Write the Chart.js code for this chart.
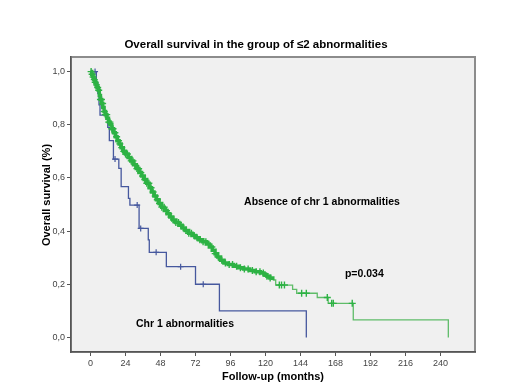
<!DOCTYPE html>
<html>
<head>
<meta charset="utf-8">
<script src="https://cdn.jsdelivr.net/npm/chart.js@4.4.0/dist/chart.umd.min.js"></script>
<style>
  html, body { margin: 0; background: #fff; }
  #wrap { width: 520px; height: 390px; }
</style>
</head>
<body>
<div id="wrap"><canvas id="km"></canvas></div>
<script>
// tick labels
const xTicks = [0, 24, 48, 72, 96, 120, 144, 168, 192, 216, 240];
const yTicks = [0, 0.2, 0.4, 0.6, 0.8, 1.0];

// Absence of chr 1 abnormalities - event times (months) and survival after each event
const greenT = [0, 0.8, 1.6, 2.3, 3.0, 3.8, 4.5, 5.3, 6.0, 6.8, 7.6, 8.4, 9.3, 10.2, 11.2, 12.3, 13.4,
  14.6, 15.8, 17.0, 18.2, 19.6, 21.0, 22.5, 24.0, 25.8, 27.6, 29.5, 31.4, 33.2, 35.0, 36.8, 38.5,
  40.2, 41.8, 43.5, 45.2, 47.0, 48.8, 50.6, 52.5, 54.4, 56.4, 58.5, 60.6, 62.8, 65.0, 67.3, 69.6,
  72.0, 74.5, 77.0, 79.4, 81.5, 83.5, 85.4, 87.2, 89.2, 91.5, 94.5, 98.0, 101.5, 105.0, 109.0,
  113.0, 116.5, 119.0, 121.0, 123.0, 125.0, 127.0, 138.6, 141.4, 155.5, 163.0, 180.2, 245.4];
const greenS = [1.0, 0.99, 0.98, 0.97, 0.96, 0.95, 0.94, 0.93, 0.91, 0.895, 0.88, 0.865, 0.85, 0.838, 0.825, 0.81, 0.80,
  0.785, 0.77, 0.755, 0.74, 0.728, 0.714, 0.70, 0.69, 0.677, 0.664, 0.65, 0.635, 0.62, 0.607, 0.594, 0.58,
  0.563, 0.547, 0.532, 0.518, 0.504, 0.49, 0.477, 0.465, 0.453, 0.442, 0.432, 0.422, 0.412, 0.402, 0.392, 0.383,
  0.375, 0.367, 0.36, 0.351, 0.34, 0.328, 0.315, 0.302, 0.29, 0.28, 0.274, 0.268, 0.262, 0.257, 0.252,
  0.247, 0.242, 0.236, 0.23, 0.223, 0.216, 0.197, 0.181, 0.166, 0.15, 0.128, 0.066, 0.0];
// censored times for the same group
const greenCens = [0.4, 1.1, 1.8, 2.6, 3.2, 4.1, 4.9, 5.6, 6.8, 7.5, 8.3, 9.4, 10.2, 11.1, 12.5, 13.3, 14.6,
  15.4, 16.7, 17.9, 19.2, 20.1, 21.4, 22.8, 24.0, 25.3, 26.5, 27.9, 29.1, 30.4, 31.8, 33.0, 34.5, 35.7,
  37.2, 38.6, 40.0, 41.5, 42.9, 44.4, 45.8, 47.3, 48.9, 50.5, 52.1, 53.6, 55.2, 56.9, 58.5, 60.3, 62.0,
  63.8, 65.5, 67.4, 69.2, 71.0, 73.1, 75.0, 77.2, 79.1, 81.0, 83.2, 85.5, 87.6, 90.0, 92.5, 95.1, 97.4,
  100.2, 102.8, 105.5, 108.1, 111.0, 113.6, 116.2, 118.5, 121.0, 123.2, 129.5, 131.0, 133.0, 144.8,
  148.0, 162.4, 165.4, 166.5, 179.5];

// Chr 1 abnormalities
const blueT = [0, 4.0, 5.0, 5.8, 6.5, 11.8, 12.9, 15.7, 19.4, 21.0, 26.0, 27.0, 33.3, 39.6, 40.3, 52.0, 72.0, 88.4, 148.0];
const blueS = [1.0, 0.958, 0.917, 0.875, 0.836, 0.79, 0.74, 0.671, 0.636, 0.567, 0.523, 0.498, 0.41, 0.367, 0.32, 0.266, 0.20, 0.10, 0.0];
const blueCens = [3.1, 16.8, 32.0, 34.4, 45.0, 61.8, 77.3];

const notes = ['Absence of chr 1 abnormalities', 'p=0.034', 'Chr 1 abnormalities'];

const FONT = '"Liberation Sans", Arial, sans-serif';
const GREEN = 'rgb(45,178,68)';
const GREEN_TAIL = 'rgb(95,188,105)';
const BLUE = 'rgb(70,88,158)';

// survival level at time t (KM step lookup)
function survAt(ts, ss, t) {
  let s = ss[0];
  for (let i = 0; i < ts.length; i++) { if (ts[i] <= t) s = ss[i]; }
  return s;
}

const toPts = (ts, ss) => ts.map((t, i) => ({ x: t, y: ss[i] }));
const greenPts = toPts(greenT, greenS);
const splitAt = 125;

const bgPlugin = {
  id: 'bg',
  beforeDraw(chart) {
    const { ctx, chartArea: a } = chart;
    ctx.save();
    ctx.fillStyle = '#f0f0f0';
    ctx.fillRect(a.left, a.top, a.right - a.left, a.bottom - a.top);
    ctx.strokeStyle = '#8c8c8c';
    ctx.lineWidth = 2;
    ctx.strokeRect(a.left, a.top, a.right - a.left, a.bottom - a.top);
    ctx.restore();
  },
  afterDraw(chart) {
    const { ctx, scales } = chart;
    const x = scales.x, y = scales.y;
    ctx.save();
    ctx.fillStyle = '#000';
    ctx.textBaseline = 'middle';
    ctx.textAlign = 'center';
    ctx.font = 'bold 11.5px ' + FONT;
    ctx.fillText('Overall survival in the group of \u22642 abnormalities', 256, 45);
    ctx.font = 'bold 11px ' + FONT;
    ctx.fillText('Follow-up (months)', 273, 377);
    ctx.save();
    ctx.translate(47, 195);
    ctx.rotate(-Math.PI / 2);
    ctx.fillText('Overall survival (%)', 0, 0);
    ctx.restore();
    ctx.textAlign = 'left';
    ctx.font = 'bold 10.5px ' + FONT;
    ctx.fillText(notes[0], x.getPixelForValue(105.3), y.getPixelForValue(0.509));
    ctx.fillText(notes[1], x.getPixelForValue(174.5), y.getPixelForValue(0.239));
    ctx.fillText(notes[2], x.getPixelForValue(31.2), y.getPixelForValue(0.051));
    ctx.restore();
  }
};

new Chart(document.getElementById('km'), {
  type: 'scatter',
  data: {
    datasets: [
      {
        label: 'green censored',
        data: greenCens.map(t => ({ x: t, y: survAt(greenT, greenS, t) })),
        pointStyle: 'cross', pointRadius: 3.5, borderWidth: 1.4,
        borderColor: GREEN, backgroundColor: GREEN, showLine: false, order: 0
      },
      {
        label: 'green early',
        data: greenPts.filter(p => p.x <= splitAt),
        showLine: true, stepped: 'before', pointRadius: 0,
        borderColor: GREEN, borderWidth: 3.5, order: 1
      },
      {
        label: 'green tail',
        data: greenPts.filter(p => p.x >= splitAt),
        showLine: true, stepped: 'before', pointRadius: 0,
        borderColor: GREEN_TAIL, borderWidth: 1.3, order: 1
      },
      {
        label: 'blue censored',
        data: blueCens.map(t => ({ x: t, y: survAt(blueT, blueS, t) })),
        pointStyle: 'cross', pointRadius: 3, borderWidth: 1.2,
        borderColor: BLUE, backgroundColor: BLUE, showLine: false, order: 2
      },
      {
        label: 'blue',
        data: toPts(blueT, blueS),
        showLine: true, stepped: 'before', pointRadius: 0,
        borderColor: BLUE, borderWidth: 1.3, order: 3
      }
    ]
  },
  options: {
    responsive: true,
    maintainAspectRatio: false,
    animation: false,
    layout: { padding: { top: 57, right: 45, left: 0, bottom: 0 } },
    plugins: { legend: { display: false }, tooltip: { enabled: false }, title: { display: false } },
    scales: {
      x: {
        type: 'linear', min: -13.4, max: 263.7,
        afterBuildTicks: s => { s.ticks = xTicks.map(v => ({ value: v })); },
        afterFit: s => { s.height = 38; },
        ticks: { font: { family: FONT, size: 9 }, color: '#444', padding: 2, maxRotation: 0 },
        grid: { drawOnChartArea: false, drawTicks: true, tickLength: 4, color: '#555' },
        border: { color: '#555', width: 1.5 }
      },
      y: {
        type: 'linear', min: -0.055, max: 1.055,
        afterBuildTicks: s => { s.ticks = yTicks.map(v => ({ value: v })); },
        afterFit: s => { s.width = 71; },
        ticks: {
          font: { family: FONT, size: 9 }, color: '#444', padding: 2,
          callback: v => v.toFixed(1).replace('.', ',')
        },
        grid: { drawOnChartArea: false, drawTicks: true, tickLength: 4, color: '#555' },
        border: { color: '#555', width: 1.5 }
      }
    }
  },
  plugins: [bgPlugin]
});
</script>
</body>
</html>
